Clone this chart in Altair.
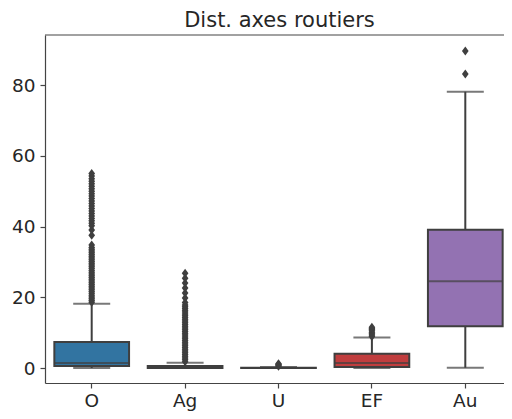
import altair as alt
import pandas as pd

categories = ["O", "Ag", "U", "EF", "Au"]
q1 = [0.6, 0.0, 0.0, 0.3, 11.8]
median = [1.4, 0.2, 0.0, 1.4, 24.5]
q3 = [7.35, 0.6, 0.1, 4.0, 39.1]
whisker_lo = [0.0, 0.0, 0.0, 0.0, 0.1]
whisker_hi = [18.2, 1.5, 0.3, 8.6, 78.1]
box_colors = ["#3274a1", "#e1812c", "#3a923a", "#c03d3e", "#9372b2"]

outliers_O = [18.6, 19.1, 19.6, 20.1, 20.6, 21.1, 21.6, 22.1, 22.6, 23.1, 23.6,
              24.1, 24.6, 25.1, 25.6, 26.1, 26.6, 27.1, 27.6, 28.1, 28.6, 29.1,
              29.6, 30.1, 30.6, 31.1, 31.6, 32.1, 32.6, 33.1, 33.6, 34.1, 34.8,
              37.5, 39.0,
              40.2, 40.9, 41.6, 42.3, 43.0, 43.7, 44.4, 45.1, 45.8, 46.5, 47.2,
              47.9, 48.6, 49.3, 50.0, 50.7, 51.4, 52.1, 52.8, 53.5, 54.3, 55.0]
outliers_Ag = [1.8, 2.3, 2.8, 3.3, 3.8, 4.3, 4.8, 5.3, 5.8, 6.3, 6.8, 7.3, 7.8,
               8.3, 8.8, 9.3, 9.8, 10.3, 10.8, 11.3, 11.8, 12.3, 12.8, 13.3, 13.8,
               14.3, 14.8, 15.3, 15.8, 16.3, 16.8, 17.3, 17.8, 18.5,
               19.8, 21.2, 22.6, 24.0, 25.4, 26.8]
outliers_U = [0.5, 0.8, 1.0, 1.2]
outliers_EF = [8.9, 9.3, 9.7, 10.1, 10.5, 10.9, 11.2, 11.5]
outliers_Au = [83.1, 89.6]

y_ticks = [0, 20, 40, 60, 80]
y_domain = [-4.24, 94.15]
title_text = ["Dist. axes routiers"]

edge = "#3f3f3f"
spine = "#444444"
font = "DejaVu Sans"

stats = pd.DataFrame({
    "cat": categories, "q1": q1, "median": median, "q3": q3,
    "lo": whisker_lo, "hi": whisker_hi,
})
out_rows = []
for c, vals in zip(categories, [outliers_O, outliers_Ag, outliers_U, outliers_EF, outliers_Au]):
    for v in vals:
        out_rows.append({"cat": c, "v": v})
outs = pd.DataFrame(out_rows)

W = 467
H = 348

x = alt.X("cat:N", sort=categories, title=None,
          scale=alt.Scale(paddingInner=0, paddingOuter=0),
          axis=alt.Axis(labelAngle=0, labelFontSize=18.5, labelFont=font,
                        labelColor="#262626", tickSize=5, tickColor=spine,
                        tickWidth=1.2, domainColor=spine, domainWidth=1.2,
                        labelPadding=3))
yscale = alt.Scale(domain=y_domain, nice=False, zero=False)
yaxis = alt.Axis(values=y_ticks, labelFontSize=18.5, labelFont=font,
                 labelColor="#262626", tickSize=5, tickColor=spine, tickWidth=1.2,
                 domainColor=spine, domainWidth=1.2, grid=False, labelPadding=5)

base = alt.Chart(stats)

whisk = base.mark_rule(color=edge, strokeWidth=2).encode(
    x=x, y=alt.Y("lo:Q", scale=yscale, axis=yaxis, title=None), y2="hi:Q")

caps_hi = base.mark_tick(color=edge, size=37, thickness=2).encode(
    x=x, y=alt.Y("hi:Q", scale=yscale))
caps_lo = base.mark_tick(color=edge, size=37, thickness=2).encode(
    x=x, y=alt.Y("lo:Q", scale=yscale))

boxes = base.mark_bar(width=alt.RelativeBandSize(0.8), stroke=edge, strokeWidth=2).encode(
    x=x, y=alt.Y("q1:Q", scale=yscale), y2="q3:Q",
    fill=alt.Fill("cat:N", sort=categories,
                  scale=alt.Scale(domain=categories, range=box_colors), legend=None))

med = base.mark_tick(color=edge, size=74.7, thickness=2).encode(
    x=x, y=alt.Y("median:Q", scale=yscale))

pts = alt.Chart(outs).mark_point(
    shape="M0,-1L0.75,0L0,1L-0.75,0Z", filled=True, size=80, color=edge, opacity=1
).encode(x=x, y=alt.Y("v:Q", scale=yscale))

top_spine = alt.Chart(pd.DataFrame({"t": title_text})).mark_rule(
    color=spine, strokeWidth=1.2
).encode(x=alt.value(0), x2=alt.value(W + 10), y=alt.value(0))

title = alt.Chart(pd.DataFrame({"t": title_text})).mark_text(
    font=font, fontSize=21, color="#262626", align="center", baseline="alphabetic"
).encode(text="t:N", x=alt.value(W / 2 + 1), y=alt.value(-8))

chart = alt.layer(whisk, caps_hi, caps_lo, boxes, med, pts, top_spine, title).properties(
    width=W, height=H,
    autosize=alt.AutoSizeParams(type="none"),
    padding={"left": 37, "top": 27, "right": -8, "bottom": 28},
).configure_view(stroke=None)

chart.save("out.html", embed_options={"renderer": "svg", "actions": False})
